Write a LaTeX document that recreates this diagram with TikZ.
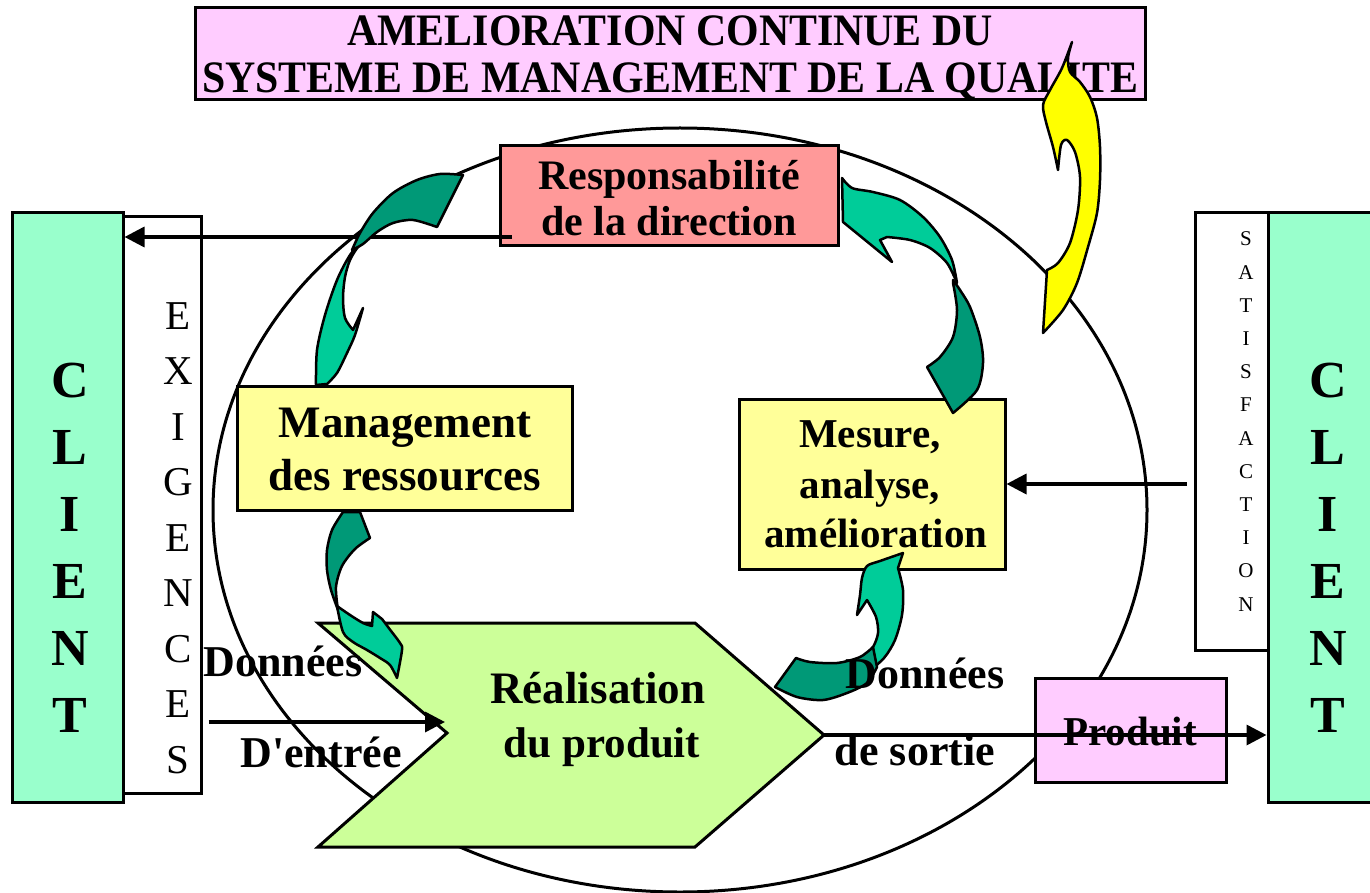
\documentclass[tikz,border=0pt]{standalone}
\usepackage{fontspec}
\setmainfont{Liberation Serif}
\newfontfamily\titlefont[FakeStretch=0.93]{Liberation Serif}
\usetikzlibrary{arrows.meta}
\definecolor{pinkc}{HTML}{FFCCFF}
\definecolor{clientc}{HTML}{99FFCC}
\definecolor{respc}{HTML}{FF9999}
\definecolor{yelc}{HTML}{FFFF99}
\definecolor{realc}{HTML}{CCFF99}
\definecolor{gdark}{HTML}{009977}
\definecolor{glight}{HTML}{00CC99}
\definecolor{yarrow}{HTML}{FFFF00}
\newcommand\fsz[1]{\fontsize{#1}{#1}\selectfont}
\begin{document}
\begin{tikzpicture}[x=1pt,y=-1pt,
  box/.style={draw, line width=3pt, inner sep=0pt},
  lbl/.style={anchor=base, inner sep=0pt, font=\bfseries\fsz{44}},
  conn/.style={line width=3.5pt, -{Triangle[length=20pt,width=20pt]}},
  gar/.style={draw=black, line width=2.5pt, line join=round},
  exl/.style={inner sep=0pt, font=\fsz{41}},
  cll/.style={inner sep=0pt, font=\bfseries\fsz{52}},
  satl/.style={inner sep=0pt, font=\fsz{21}}]
\useasboundingbox (0,0) rectangle (1370,893);
% ellipse
\draw[line width=3pt] (680,510) ellipse [x radius=467, y radius=382];
% title
\node[box, fill=pinkc, minimum width=950pt, minimum height=92pt] (title) at (670,54) {};
\node[lbl, font=\titlefont\bfseries\fsz{45}] (titleA) at (670,46) {AMELIORATION CONTINUE DU};
\node[lbl, font=\titlefont\bfseries\fsz{45}] (titleB) at (670,93) {SYSTEME DE MANAGEMENT DE LA QUALITE};
% left client and exigences
\node[box, fill=white, minimum width=78pt, minimum height=576pt] (ex) at (162,505) {};
\node[box, fill=clientc, minimum width=111pt, minimum height=589pt] (cl) at (67.5,507.5) {};
% right satisfaction and client
\node[box, fill=white, minimum width=73pt, minimum height=437pt] (sat) at (1231.5,431.5) {};
\node[box, fill=clientc, minimum width=117pt, minimum height=589pt] (cr) at (1326.5,507.5) {};
\foreach \l [count=\i] in {E,X,I,G,E,N,C,E,S}
  \node[exl] (exl\i) at (178,{316+55.5*(\i-1)}) {\l};
\foreach \l [count=\i] in {C,L,I,E,N,T} {
  \node[cll] (cla\i) at (70,{381+66.8*(\i-1)}) {\l};
  \node[cll] (clb\i) at (1328,{381+66.8*(\i-1)}) {\l};
}
\foreach \l [count=\i] in {S,A,T,I,S,F,A,C,T,I,O,N}
  \node[satl] (sl\i) at (1246,{239+33.2*(\i-1)}) {\l};
% process boxes
\node[box, fill=respc, minimum width=338pt, minimum height=100pt] (resp) at (669,196) {};
\node[lbl, font=\bfseries\fsz{42}] (respA) at (669,190) {Responsabilité};
\node[lbl, font=\bfseries\fsz{42}] (respB) at (669,236) {de la direction};
\node[box, fill=yelc, minimum width=335pt, minimum height=124pt] (mgmt) at (404.5,448) {};
\node[lbl, font=\bfseries\fsz{45}] (mgmtA) at (405,437) {Management};
\node[lbl, font=\bfseries\fsz{45}] (mgmtB) at (405,490) {des ressources};
\node[box, fill=yelc, minimum width=266pt, minimum height=170pt] (mes) at (872,484) {};
\node[lbl, font=\bfseries\fsz{41}] (mesA) at (870,447) {Mesure,};
\node[lbl, font=\bfseries\fsz{41}] (mesB) at (870,498) {analyse,};
\node[lbl, font=\bfseries\fsz{41}] (mesC) at (876,547) {amélioration};
% realisation chevron
\filldraw[fill=realc, line width=3pt, line join=miter] (318,623) -- (695,623) -- (824,735) -- (695,847) -- (318,847) -- (447,733) -- cycle;
\coordinate (realin) at (445,722);
\coordinate (realtip) at (824,735);
\node[lbl, font=\bfseries\fsz{45}] (realA) at (598,703) {Réalisation};
\node[lbl, font=\bfseries\fsz{43}] (realB) at (602,757) {du produit};
% produit
\node[box, fill=pinkc, minimum width=191pt, minimum height=104pt] (prod) at (1130.5,730) {};
\node[lbl, font=\bfseries\fsz{41}] (prodT) at (1130,745) {Produit};
% connectors
\coordinate (rs) at (512,237);
\draw[conn] (rs) -- (cl.east |- rs);
\draw[conn] ([xshift=6pt]ex.east |- realin) -- (realin);
\draw[conn] (realtip) -- (cr.west |- realtip);
\draw[conn] ([xshift=-7pt]sat.west |- mes.east) -- (mes.east);
% green arrow 1: resp -> mgmt
\filldraw[gar, fill=glight] (363,240) -- plot[smooth] coordinates {(363,240) (350,255) (337,280) (325,315) (317,350) (316,385)}
  -- (327,384) -- plot[smooth] coordinates {(327,384) (337,373) (347,353) (355,335) (363,308)}
  -- (353,330) -- plot[smooth] coordinates {(353,330) (345,318) (343,298) (345,277) (350,260) (358,247) (366,240)} -- cycle;
\filldraw[gar, fill=gdark] (463,175) -- plot[smooth] coordinates {(463,175) (440,174) (417,180) (393,193) (373,213) (360,233) (352,250)}
  -- plot[smooth] coordinates {(352,250) (363,244) (377,232) (393,223) (413,220) (437,227)} -- cycle;
% green arrow 2: mgmt -> realisation
\filldraw[gar, fill=glight] (337,606) -- plot[smooth] coordinates {(337,606) (350,615) (363,623) (372,626)}
  -- (373,612) -- (382,619) -- plot[smooth] coordinates {(382,619) (388,627) (400,643) (402,650) (397,678)}
  -- plot[smooth] coordinates {(397,678) (390,665) (380,658) (367,650) (353,642) (343,632) (337,606)} -- cycle;
\filldraw[gar, fill=gdark] (343,512) -- (360,512) -- (370,538)
  -- plot[smooth] coordinates {(370,538) (355,549) (342,566) (336,587) (338,610)}
  -- plot[smooth] coordinates {(338,610) (331,590) (327,570) (327,550) (332,530) (343,512)} -- cycle;
% green arrow 3: realisation -> mesure
\filldraw[gar, fill=glight] (866,674) -- plot[smooth] coordinates {(866,674) (884,658) (895,640) (902,615) (903,590) (898,568)}
  -- (903,553) -- plot[smooth] coordinates {(903,553) (880,561) (867,566) (862,578) (860,595) (857,615)}
  -- (867,600) -- plot[smooth] coordinates {(867,600) (876,617) (878,633) (873,647) (862,660)} -- cycle;
\filldraw[gar, fill=gdark] (796,658) -- (775,687)
  -- plot[smooth] coordinates {(775,687) (797,697) (823,700) (847,693) (867,683) (877,667)}
  -- (873,647) -- plot[smooth] coordinates {(873,647) (860,657) (837,663) (810,662) (796,658)} -- cycle;
% green arrow 4: mesure -> resp
\filldraw[gar, fill=glight] (842,178) -- plot[smooth] coordinates {(842,178) (852,188) (873,192) (900,200) (923,217) (940,237) (952,260) (957,283)}
  -- plot[smooth] coordinates {(957,283) (947,263) (930,248) (910,240) (887,237)}
  -- (880,240) -- (892,262) -- (843,222) -- cycle;
\filldraw[gar, fill=gdark] (953,280) -- plot[smooth] coordinates {(953,280) (960,290) (970,307) (980,337) (983,363) (977,390) (953,413)}
  -- (927,367) -- plot[smooth] coordinates {(927,367) (940,357) (953,337) (957,310) (953,283)} -- cycle;
% yellow arrow
\filldraw[gar, fill=yarrow] (1072,42) -- plot[smooth] coordinates {(1072,42) (1068,58) (1070,72) (1080,82) (1090,97) (1097,118) (1100,147) (1100,180) (1097,213) (1088,247) (1077,283) (1063,310) (1043,333)}
  -- (1047,270) -- plot[smooth] coordinates {(1047,270) (1058,263) (1070,243) (1078,210) (1080,177) (1075,152) (1067,140) (1061,145) (1058,170)}
  -- plot[smooth] coordinates {(1058,170) (1053,147) (1046,122) (1043,105) (1050,90) (1062,68) (1072,42)} -- cycle;
% data labels
\node[lbl] (donA) at (283,676) {Données};
\node[lbl] (entA) at (321,767) {D\textquotesingle entrée};
\node[lbl] (donB) at (925,688) {Données};
\node[lbl] (sortB) at (915,765) {de sortie};
\end{tikzpicture}
\end{document}
